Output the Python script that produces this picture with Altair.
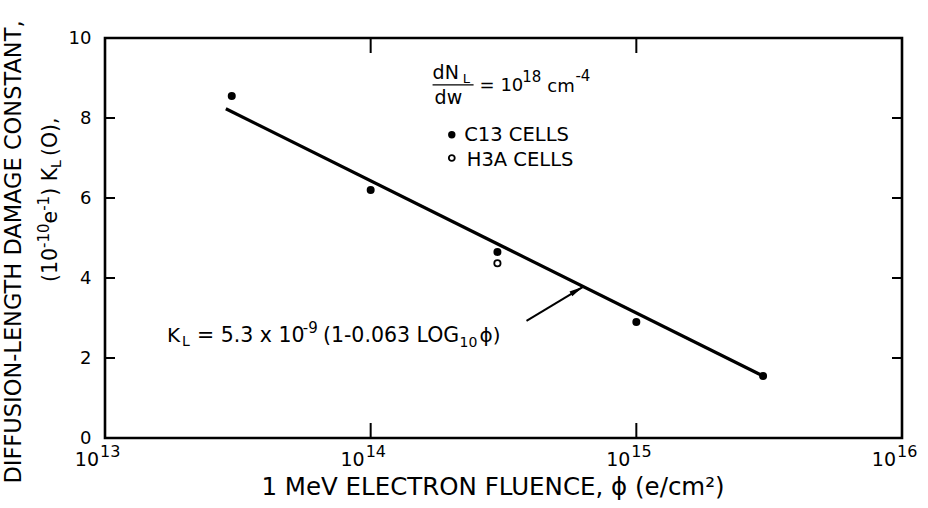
import altair as alt
import pandas as pd

# ---- data ----
c13_fluence = [3e13, 1e14, 3e14, 1e15, 3e15]
c13_k = [8.55, 6.2, 4.65, 2.9, 1.55]
h3a_fluence = [3e14]
h3a_k = [4.37]
fit_fluence = [2.85e13, 3e15]
fit_k = [8.23, 1.55]
arrow_fluence = [3.86e14, 6.3e14]
arrow_k = [2.93, 3.78]
x_tick_values = [1e13, 1e14, 1e15, 1e16]
x_tick_exponents = ["13", "14", "15", "16"]
x_inner_ticks = [1e14, 1e15]
y_tick_values = [0, 2, 4, 6, 8, 10]
y_inner_ticks = [2, 4, 6, 8]

FONT = "DejaVu Sans"
W, H = 797, 400

# approximate DejaVu Sans advance widths (em) for laying out rotated title pieces
EM = {"(": .390, ")": .390, "1": .636, "0": .636, "-": .361, "e": .615,
      "K": .656, " ": .318, "L": .557, "O": .787, ",": .318}


def tw(s, size):
    return sum(EM.get(c, .6) for c in s) * size


xs = alt.Scale(type="log", domain=[1e13, 1e16])
ys = alt.Scale(domain=[0, 10])


def X(field="f"):
    return alt.X(f"{field}:Q", scale=xs, axis=None)


def Y(field="k"):
    return alt.Y(f"{field}:Q", scale=ys,
                 axis=alt.Axis(values=y_tick_values, ticks=False, domain=False,
                               grid=False, title=None, labelFontSize=18,
                               labelPadding=14, labelColor="black",
                               labelFont=FONT))


c13 = pd.DataFrame({"f": c13_fluence, "k": c13_k})
h3a = pd.DataFrame({"f": h3a_fluence, "k": h3a_k})
fit = pd.DataFrame({"f": fit_fluence, "k": fit_k})
arrow = pd.DataFrame({"f": [arrow_fluence[0]], "k": [arrow_k[0]],
                      "f2": [arrow_fluence[1]], "k2": [arrow_k[1]]})
tip = pd.DataFrame({"f": [arrow_fluence[1]], "k": [arrow_k[1]]})
xt = pd.DataFrame({"f": x_tick_values, "e": x_tick_exponents})
xin = pd.DataFrame({"f": x_inner_ticks})
yin = pd.DataFrame({"k": y_inner_ticks})
one = pd.DataFrame({"d": [0]})

# inner ticks
top_ticks = alt.Chart(xin).mark_rule(color="black", strokeWidth=2).encode(
    x=X(), y=alt.value(0), y2=alt.value(15))
bot_ticks = alt.Chart(xin).mark_rule(color="black", strokeWidth=2).encode(
    x=X(), y=alt.value(H), y2=alt.value(H - 15))
left_ticks = alt.Chart(yin).mark_rule(color="black", strokeWidth=2).encode(
    y=Y(), x=alt.value(0), x2=alt.value(10))
right_ticks = alt.Chart(yin).mark_rule(color="black", strokeWidth=2).encode(
    y=Y(), x=alt.value(W), x2=alt.value(W - 10))

# x tick labels (10 with superscript exponent)
xl_base = alt.Chart(xt).mark_text(text="10", align="right", baseline="middle",
                                  dx=-6, dy=22, fontSize=19, font=FONT,
                                  color="black").encode(x=X(), y=alt.value(H))
xl_sup = alt.Chart(xt).mark_text(align="left", baseline="middle", dx=-5, dy=14,
                                 fontSize=16, font=FONT, color="black").encode(
    x=X(), y=alt.value(H), text="e:N")

# fit line, points
fit_line = alt.Chart(fit).mark_line(color="black", strokeWidth=3.2).encode(
    x=X(), y=Y())
pts = alt.Chart(c13).mark_circle(color="black", opacity=1, size=64).encode(
    x=X(), y=Y())
open_pts = alt.Chart(h3a).mark_point(shape="circle", filled=False, color="black",
                                     strokeWidth=1.8, size=40, opacity=1).encode(
    x=X(), y=Y())

# arrow
arrow_line = alt.Chart(arrow).mark_rule(color="black", strokeWidth=2).encode(
    x=X(), y=Y(), x2="f2:Q", y2="k2:Q")
arrow_head = alt.Chart(tip).mark_point(shape="M0,0L-0.4,2L0.4,2Z", filled=True,
                                       color="black", opacity=1, size=196,
                                       angle=60).encode(x=X(), y=Y())

# annotation texts (data coordinates)
ann = pd.DataFrame([
    # fraction dN_L / dw = 10^18 cm^-4
    {"t": "dN", "f": 1.71e14, "k": 9.13, "s": 19},
    {"t": "L", "f": 2.22e14, "k": 8.97, "s": 13},
    {"t": "dw", "f": 1.74e14, "k": 8.50, "s": 19},
    {"t": "= 10", "f": 2.57e14, "k": 8.80, "s": 18},
    {"t": "18", "f": 3.72e14, "k": 9.03, "s": 15},
    {"t": "cm", "f": 4.62e14, "k": 8.78, "s": 18},
    {"t": "-4", "f": 5.90e14, "k": 9.05, "s": 15},
    # legend texts
    {"t": "C13 CELLS", "f": 2.25e14, "k": 7.58, "s": 19.5},
    {"t": "H3A CELLS", "f": 2.30e14, "k": 6.94, "s": 19.5},
    # formula
    {"t": "K", "f": 1.71e13, "k": 2.55, "s": 20},
    {"t": "L", "f": 1.95e13, "k": 2.40, "s": 14},
    {"t": "= 5.3 x 10", "f": 2.22e13, "k": 2.55, "s": 20.5},
    {"t": "-9", "f": 5.55e13, "k": 2.75, "s": 15},
    {"t": "(1-0.063 LOG", "f": 6.61e13, "k": 2.55, "s": 20.5},
    {"t": "10", "f": 2.16e14, "k": 2.38, "s": 14},
    {"t": "\u03d5)", "f": 2.57e14, "k": 2.55, "s": 20},
])
ann_text = alt.Chart(ann).mark_text(align="left", baseline="middle", font=FONT,
                                    color="black").encode(
    x=X(), y=Y(), text="t:N", size=alt.Size("s:Q", scale=None))

frac = pd.DataFrame({"f": [1.71e14], "f2": [2.44e14], "k": [8.83]})
frac_bar = alt.Chart(frac).mark_rule(color="black", strokeWidth=1.3).encode(
    x=X(), x2="f2:Q", y=Y())

leg_f = pd.DataFrame({"f": [2.02e14], "k": [7.58]})
leg_o = pd.DataFrame({"f": [2.02e14], "k": [7.0]})
leg_fill = alt.Chart(leg_f).mark_circle(color="black", opacity=1, size=55).encode(
    x=X(), y=Y())
leg_open = alt.Chart(leg_o).mark_point(shape="circle", filled=False, color="black",
                                       strokeWidth=1.8, size=35, opacity=1).encode(
    x=X(), y=Y())

# x axis title
x_title = alt.Chart(one).mark_text(
    text="1 MeV ELECTRON FLUENCE, \u03d5 (e/cm\u00b2)", align="center",
    baseline="middle", fontSize=24.5, font=FONT, color="black").encode(
    x=alt.value(388), y=alt.value(450))

# y axis title (rotated): line 1
yt1 = alt.Chart(one).mark_text(
    text="DIFFUSION-LENGTH DAMAGE CONSTANT,", angle=270, align="center",
    baseline="middle", fontSize=22.5, font=FONT, color="black").encode(
    x=alt.value(-91), y=alt.value(214))

# line 2 built from pieces reading upward: (10 ^-10 e ^-1 ) K _L (O),
pieces = [("(10", 20.5, 0), ("-10", 15, -7), ("e", 20.5, 0), ("-1", 15, -7),
          (") K", 20.5, 0), ("L", 14, 6), ("(O),", 20.5, 0)]
gaps = {"(O),": 4}
line2_x = -54          # screen centre of line 2 relative to plot left
pos = 282 - 38         # start (bottom) of line 2 relative to plot top
y2_layers = []
for txt, sz, shift in pieces:
    pos -= gaps.get(txt, 0)
    y2_layers.append(alt.Chart(one).mark_text(
        text=txt, angle=270, align="left", baseline="middle", fontSize=sz,
        font=FONT, color="black").encode(
        x=alt.value(line2_x + shift), y=alt.value(pos)))
    pos -= tw(txt, sz)

chart = alt.layer(
    top_ticks, bot_ticks, left_ticks, right_ticks,
    xl_base, xl_sup, fit_line, pts, open_pts, arrow_line, arrow_head,
    ann_text, frac_bar, leg_fill, leg_open, x_title, yt1, *y2_layers,
).properties(
    width=W, height=H,
    autosize=alt.AutoSizeParams(type="none"),
    padding={"left": 105, "top": 38, "right": 26, "bottom": 70},
    background="white",
).configure(
    font=FONT
).configure_view(
    stroke="black", strokeWidth=2.6
)

chart.save("out.html", embed_options={"renderer": "svg", "actions": False})
